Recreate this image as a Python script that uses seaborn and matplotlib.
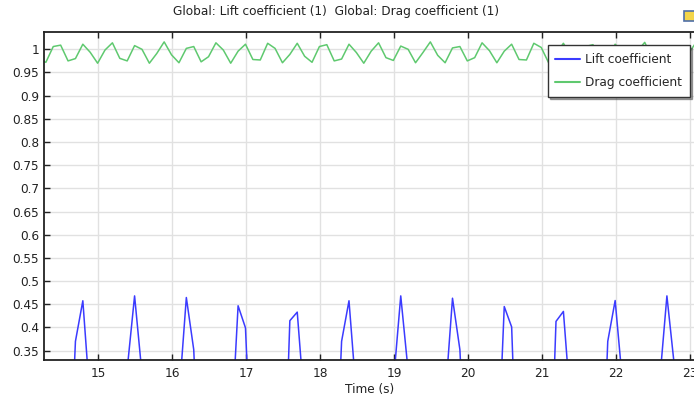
import numpy as np
import pandas as pd
import matplotlib
matplotlib.use("Agg")
import matplotlib.pyplot as plt
import seaborn as sns
from matplotlib.patches import Rectangle

# ---- data ----
time_start = 14.19
time_step = 0.1
n_samples = 90
time_s = np.round(time_start + time_step * np.arange(n_samples), 2)

lift_coefficient = [
    0.137, -0.256, -0.467, -0.344, 0.0, 0.370, 0.4575, 0.238, -0.178, -0.447,
    -0.398, -0.065, 0.31, 0.468, 0.30, -0.094, -0.413, -0.438, -0.151, 0.248,
    0.4645, 0.352, -0.007, -0.364, -0.462, -0.231, 0.147, 0.4467, 0.399, 0.02,
    -0.303, -0.470, -0.303, -0.056, 0.4145, 0.433, 0.227, -0.231, -0.462, -0.364,
    -0.007, 0.370, 0.4575, 0.252, -0.151, -0.438, -0.413, -0.094, 0.279, 0.468,
    0.306, -0.065, -0.398, -0.447, -0.178, 0.245, 0.463, 0.352, 0.022, -0.345,
    -0.466, -0.256, 0.062, 0.445, 0.401, -0.05, -0.280, -0.469, -0.325, -0.05,
    0.413, 0.4345, 0.226, -0.205, -0.455, -0.382, -0.037, 0.370, 0.458, 0.28,
    -0.122, -0.426, -0.426, -0.123, 0.28, 0.468, 0.318, -0.036, -0.382, -0.456,
]

drag_coefficient = [
    0.978, 0.972, 1.006, 1.009, 0.975, 0.980, 1.011, 0.9935, 0.970, 0.9985,
    1.014, 0.9805, 0.975, 1.008, 1.000, 0.970, 0.991, 1.016, 0.988, 0.971,
    1.002, 1.006, 0.973, 0.984, 1.014, 0.9985, 0.970, 0.996, 1.011, 0.978,
    0.977, 1.013, 1.002, 0.971, 0.989, 1.013, 0.985, 0.972, 1.006, 1.010,
    0.975, 0.979, 1.011, 0.993, 0.970, 0.996, 1.014, 0.982, 0.976, 1.007,
    1.000, 0.971, 0.993, 1.016, 0.987, 0.971, 1.003, 1.006, 0.975, 0.982,
    1.014, 0.997, 0.971, 0.996, 1.011, 0.978, 0.977, 1.013, 1.004, 0.971,
    0.990, 1.013, 0.985, 0.972, 1.006, 1.010, 0.975, 0.979, 1.011, 0.993,
    0.970, 0.996, 1.015, 0.982, 0.976, 1.007, 1.000, 0.971, 0.993, 1.016,
]

series_names = ["Lift coefficient", "Drag coefficient"]
series_colors = ["#3b3bff", "#5fc96f"]

x_ticks = [15, 16, 17, 18, 19, 20, 21, 22, 23]
x_tick_labels = ["15", "16", "17", "18", "19", "20", "21", "22", "23"]
y_ticks = [0.35, 0.4, 0.45, 0.5, 0.55, 0.6, 0.65, 0.7, 0.75, 0.8, 0.85, 0.9, 0.95, 1.0]
y_tick_labels = ["0.35", "0.4", "0.45", "0.5", "0.55", "0.6", "0.65", "0.7",
                 "0.75", "0.8", "0.85", "0.9", "0.95", "1"]

title_text = "Global: Lift coefficient (1)  Global: Drag coefficient (1)"
x_label = "Time (s)"

df = pd.concat([
    pd.DataFrame({"time": time_s, "value": lift_coefficient, "series": series_names[0]}),
    pd.DataFrame({"time": time_s, "value": drag_coefficient, "series": series_names[1]}),
], ignore_index=True)

# ---- style ----
sns.set_style("white")
plt.rcParams["font.family"] = ["DejaVu Sans"]
plt.rcParams["font.size"] = 8.7

W, H = 694, 401
fig = plt.figure(figsize=(W / 100, H / 100), dpi=100)
left_px, right_px, top_px, bottom_px = 43.5, 695.0, 31.7, 360.0
ax = fig.add_axes([left_px / W, 1 - bottom_px / H,
                   (right_px - left_px) / W, (bottom_px - top_px) / H])

sns.lineplot(data=df, x="time", y="value", hue="series",
             palette=dict(zip(series_names, series_colors)),
             estimator=None, sort=False, linewidth=1.1, ax=ax)

ax.set_xlim(14.258, 23.07)
ax.set_ylim(0.3297, 1.038)
ax.set_xticks(x_ticks)
ax.set_xticklabels(x_tick_labels)
ax.set_yticks(y_ticks)
ax.set_yticklabels(y_tick_labels)

ax.grid(True, color="#e1e1e1", linewidth=1.0)
ax.set_axisbelow(True)
ax.tick_params(axis="both", direction="in", length=4.5, width=1.0,
               colors="#222222", labelcolor="#222222", labelsize=8.7)
ax.tick_params(axis="x", top=True, bottom=True, pad=5)
ax.tick_params(axis="y", left=True, right=False, pad=3)
for side in ["left", "top", "bottom"]:
    ax.spines[side].set_color("#222222")
    ax.spines[side].set_linewidth(1.3)
ax.spines["right"].set_visible(False)

ax.set_xlabel(x_label, fontsize=8.7, color="#222222", labelpad=2)
ax.set_ylabel("")

fig.text(336 / W, 1 - 12 / H, title_text, ha="center", va="center",
         fontsize=8.7, color="#222222")

leg = ax.legend(loc="upper left", bbox_to_anchor=(0.7736, 0.9586),
                borderaxespad=0, frameon=True, fancybox=False, shadow=True,
                edgecolor="#333333", fontsize=8.7, handlelength=2.0,
                handletextpad=0.45, borderpad=0.65, labelspacing=0.8)
leg.get_frame().set_linewidth(1.0)
for line in leg.get_lines():
    line.set_linewidth(1.5)

# small toolbar icon at the top right corner
fig.patches.append(Rectangle((684 / W, 1 - 21 / H), 12 / W, 10 / H,
                             transform=fig.transFigure, facecolor="#f3d54a",
                             edgecolor="#4f6fa8", linewidth=1.2))

fig.savefig("out.png", dpi=100)
